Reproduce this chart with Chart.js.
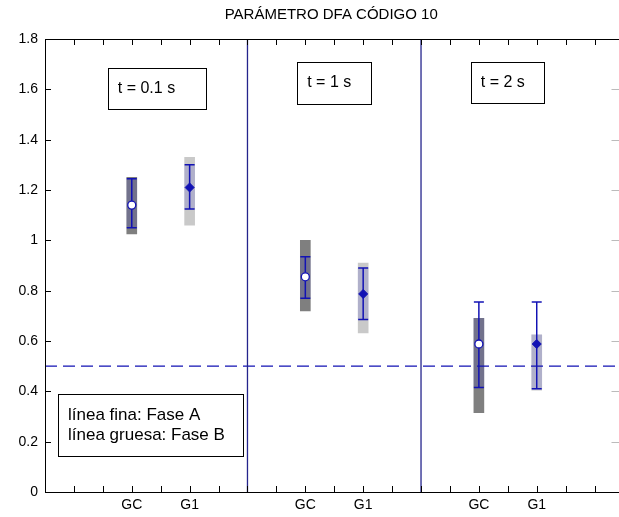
<!DOCTYPE html>
<html>
<head>
<meta charset="utf-8">
<script src="https://cdn.jsdelivr.net/npm/chart.js@4"></script>
<style>
  html, body { margin: 0; padding: 0; background: #fff; overflow: hidden; }
  #wrap { width: 630px; height: 517px; }
</style>
</head>
<body>
<div id="wrap"><canvas id="chart" width="630" height="517"></canvas></div>
<script>
const title = 'PARÁMETRO DFA CÓDIGO 10';
const groups = ['t = 0.1 s', 't = 1 s', 't = 2 s'];
const categories = ['GC', 'G1'];
const gcMean = [1.14, 0.855, 0.588];
const g1Mean = [1.21, 0.787, 0.588];
// línea fina: Fase A  [low, high]
const gcFaseA = [[1.05, 1.245], [0.77, 0.935], [0.415, 0.755]];
const g1FaseA = [[1.125, 1.30], [0.685, 0.89], [0.41, 0.755]];
// línea gruesa: Fase B  [low, high]
const gcFaseB = [[1.025, 1.25], [0.72, 1.0], [0.315, 0.69]];
const g1FaseB = [[1.06, 1.33], [0.632, 0.91], [0.405, 0.625]];
const yTicks = [0, 0.2, 0.4, 0.6, 0.8, 1, 1.2, 1.4, 1.6, 1.8];
const threshold = 0.5;
const legendLines = ['línea fina: Fase A', 'línea gruesa: Fase B'];

const BLUE = '#1212b4';
const NAVY = '#24248c';
const FONT = "'Liberation Sans', Arial, sans-serif";

// each group takes 6 units on the x axis: GC at +3, G1 at +5, divider at +7
const xOf = (g, c) => 6 * g + 3 + 2 * c;
const dividers = groups.slice(1).map((_, g) => 6 * g + 7);

const bars = (rows, c) => rows.map((r, g) => ({ x: xOf(g, c), y: r }));
// where thin and thick ranges overlap the thick bar looks bluish
const overlap = (a, b, c) => a.map((r, g) => ({
  x: xOf(g, c), y: [Math.max(r[0], b[g][0]), Math.min(r[1], b[g][1])]
}));
const whiskers = (rows, c) => rows.flatMap((r, g) => [
  { x: xOf(g, c), y: r[0] }, { x: xOf(g, c), y: r[1] }, { x: xOf(g, c), y: null }
]);
const caps = (rows, c) => rows.flatMap((r, g) => [{ x: xOf(g, c), y: r[0] }, { x: xOf(g, c), y: r[1] }]);
const means = (vals, c) => vals.map((v, g) => ({ x: xOf(g, c), y: v }));

const refLines = [
  ...dividers.map(d => ({
    type: 'line', data: [{ x: d, y: 0 }, { x: d, y: 1.8 }],
    borderColor: NAVY, borderWidth: 1.3, pointRadius: 0, order: 2
  })),
  {
    type: 'line', data: [{ x: 0, y: threshold }, { x: 20, y: threshold }],
    borderColor: BLUE, borderWidth: 1.3, borderDash: [12, 6], pointRadius: 0, order: 2
  }
];

// text boxes placed in data units
const boxes = [
  { lines: [groups[0]], x0: 2.17, x1: 5.55, y0: 1.522, y1: 1.685, size: 16 },
  { lines: [groups[1]], x0: 8.72, x1: 11.28, y0: 1.542, y1: 1.709, size: 16 },
  { lines: [groups[2]], x0: 14.72, x1: 17.24, y0: 1.546, y1: 1.709, size: 16 },
  { lines: legendLines, x0: 0.45, x1: 6.86, y0: 0.143, y1: 0.389, size: 17 }
];

const frame = {
  id: 'frame',
  afterDatasetsDraw(chart) {
    const { ctx, chartArea: a, scales: { x, y } } = chart;
    ctx.save();
    ctx.strokeStyle = '#000';
    ctx.lineWidth = 1;
    ctx.beginPath();
    for (let v = 1; v < 20; v++) {
      const px = Math.round(x.getPixelForValue(v)) + 0.5;
      ctx.moveTo(px, a.bottom); ctx.lineTo(px, a.bottom - 6);
      ctx.moveTo(px, a.top); ctx.lineTo(px, a.top + 6);
    }
    yTicks.forEach(v => {
      const py = Math.round(y.getPixelForValue(v)) + 0.5;
      ctx.moveTo(a.left, py); ctx.lineTo(a.left + 6, py);
    });
    ctx.stroke();
    ctx.strokeStyle = '#bbb';
    ctx.beginPath();
    yTicks.forEach(v => {
      const py = Math.round(y.getPixelForValue(v)) + 0.5;
      ctx.moveTo(a.right, py); ctx.lineTo(a.right - 12, py);
    });
    ctx.stroke();
    ctx.strokeStyle = '#000';
    ctx.strokeRect(Math.round(a.left) + 0.5, Math.round(a.top) + 0.5, a.right - a.left, Math.round(a.bottom - a.top));

    boxes.forEach(b => {
      const l = x.getPixelForValue(b.x0), r = x.getPixelForValue(b.x1);
      const t = y.getPixelForValue(b.y1), btm = y.getPixelForValue(b.y0);
      ctx.fillStyle = '#fff';
      ctx.fillRect(l, t, r - l, btm - t);
      ctx.strokeRect(Math.round(l) + 0.5, Math.round(t) + 0.5, Math.round(r - l), Math.round(btm - t));
      ctx.fillStyle = '#000';
      ctx.font = b.size + 'px ' + FONT;
      ctx.textBaseline = 'middle';
      ctx.textAlign = 'left';
      const mid = (t + btm) / 2, step = 20;
      b.lines.forEach((s, i) => {
        ctx.fillText(s, l + 10, mid + (i - (b.lines.length - 1) / 2) * step);
      });
    });

    ctx.font = '15px ' + FONT;
    ctx.textAlign = 'center';
    ctx.textBaseline = 'middle';
    ctx.fillStyle = '#000';
    ctx.fillText(title, (a.left + a.right) / 2 - 3, 15);
    ctx.restore();
  }
};

new Chart(document.getElementById('chart'), {
  type: 'line',
  data: {
    datasets: [
      {
        type: 'scatter', data: means(gcMean, 0), pointStyle: 'circle', pointRadius: 4,
        backgroundColor: '#fff', borderColor: BLUE, borderWidth: 1.3, order: 0
      },
      {
        type: 'scatter', data: means(g1Mean, 1), pointStyle: 'rectRot', pointRadius: 4.5,
        backgroundColor: BLUE, borderColor: BLUE, borderWidth: 1, order: 0
      },
      {
        type: 'scatter', data: caps(gcFaseA, 0).concat(caps(g1FaseA, 1)), pointStyle: 'line',
        pointRadius: 5, borderColor: BLUE, borderWidth: 1.5, order: 1
      },
      {
        type: 'line', data: whiskers(gcFaseA, 0).concat(whiskers(g1FaseA, 1)), spanGaps: false,
        borderColor: BLUE, borderWidth: 1.5, pointRadius: 0, order: 1
      },
      ...refLines,
      {
        type: 'bar', data: overlap(gcFaseA, gcFaseB, 0).concat(overlap(g1FaseA, g1FaseB, 1)),
        backgroundColor: 'rgba(50,50,210,0.16)', barThickness: 10, grouped: false, order: 2.5
      },
      {
        type: 'bar', data: bars(gcFaseB, 0), backgroundColor: '#7f7f7f',
        barThickness: 10, grouped: false, order: 3
      },
      {
        type: 'bar', data: bars(g1FaseB, 1), backgroundColor: '#c9c9c9',
        barThickness: 10, grouped: false, order: 3
      }
    ]
  },
  options: {
    responsive: false,
    animation: false,
    devicePixelRatio: 1,
    layout: { padding: { top: 39, right: 5, left: 0, bottom: 0 } },
    plugins: { legend: { display: false }, tooltip: { enabled: false }, title: { display: false } },
    scales: {
      x: {
        type: 'linear', min: 0, max: 20, offset: false,
        grid: { display: false, drawTicks: false, offset: false },
        border: { display: false },
        afterBuildTicks: s => {
          s.ticks = groups.flatMap((_, g) => categories.map((_, c) => ({ value: xOf(g, c) })));
        },
        afterFit: s => { s.height = 25; },
        ticks: {
          padding: 5, color: '#000', maxRotation: 0, autoSkip: false,
          font: { family: FONT, size: 14 },
          callback: v => categories[((v - 3) % 6) / 2]
        }
      },
      y: {
        min: 0, max: 1.8,
        grid: { display: false, drawTicks: false },
        border: { display: false },
        afterBuildTicks: s => { s.ticks = yTicks.map(v => ({ value: v })); },
        afterFit: s => { s.width = 45; },
        ticks: {
          padding: 7, color: '#000',
          font: { family: FONT, size: 14 },
          callback: v => String(Number(v.toFixed(1)))
        }
      }
    }
  },
  plugins: [frame]
});
</script>
</body>
</html>
